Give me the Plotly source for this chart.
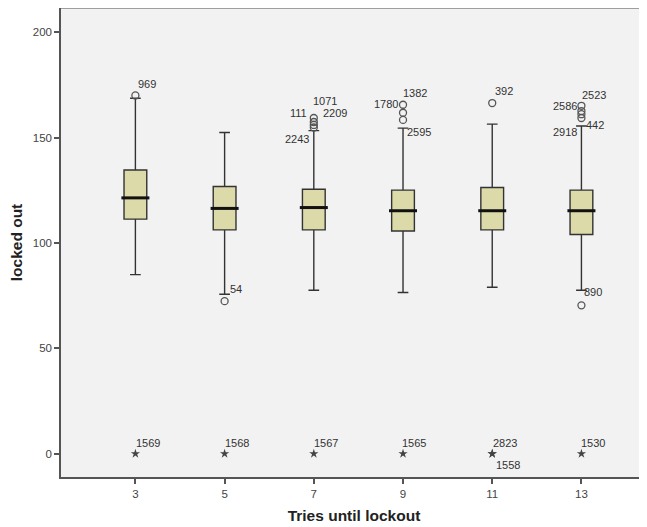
import plotly.graph_objects as go

# ---- data ----
categories = ['3', '5', '7', '9', '11', '13']
q1 = [111.3, 106.2, 106.2, 105.7, 106.2, 104.0]
median = [121.4, 116.4, 116.8, 115.3, 115.3, 115.3]
q3 = [134.6, 126.8, 125.5, 125.1, 126.3, 125.1]
lower_whisker = [85.0, 75.7, 77.6, 76.5, 79.0, 77.6]
upper_whisker = [168.7, 152.4, 153.3, 154.5, 156.4, 155.5]

outlier_cat = ['3', '5', '7', '7', '7', '7', '9', '9', '9', '11', '13', '13', '13', '13', '13']
outlier_val = [170.0, 72.4, 159.3, 157.4, 156.0, 154.8, 165.6, 161.8, 158.4, 166.4,
               165.1, 162.6, 161.1, 159.3, 70.4]

extreme_cat = ['3', '5', '7', '9', '11', '11', '13']
extreme_val = [0, 0, 0, 0, 0, 0, 0]

label_text = ['969', '1569', '54', '1568', '1071', '111', '2209', '2243', '1567',
              '1382', '1780', '2595', '1565', '392', '2823', '1558',
              '2523', '2586', '442', '2918', '890', '1530']
label_cat = ['3', '3', '5', '5', '7', '7', '7', '7', '7',
             '9', '9', '9', '9', '11', '11', '11',
             '13', '13', '13', '13', '13', '13']
label_val = [170.0, 0, 72.4, 0, 159.3, 157.4, 156.0, 154.8, 0,
             165.6, 165.6, 158.4, 0, 166.4, 0, 0,
             165.1, 165.1, 159.3, 159.3, 70.4, 0]

# ---- styling (label offsets in pixels) ----
label_shift = [(12, 11), (13, 11), (11, 12), (12, 11), (11, 17), (-15, 9), (21, 12), (-17, -12), (12, 11),
               (12, 12), (-17, 1), (16, -12), (11, 11), (12, 12), (13, 11), (16, -11),
               (13, 11), (-16, 0), (14, -7), (-16, -14), (12, 13), (12, 11)]

FONT = 'Liberation Sans, Arial, sans-serif'

fig = go.Figure()

fig.add_trace(go.Box(
    x=categories, q1=q1, median=median, q3=q3,
    lowerfence=lower_whisker, upperfence=upper_whisker,
    boxpoints=False, width=0.255, whiskerwidth=0.47,
    fillcolor='#DCDAA8', line=dict(color='#333333', width=1.4),
    hoverinfo='skip', showlegend=False,
))

# thick median bar
fig.add_trace(go.Scatter(
    x=categories, y=median, mode='markers',
    marker=dict(symbol='line-ew', size=20, line=dict(color='#111111', width=3)),
    hoverinfo='skip', showlegend=False,
))

fig.add_trace(go.Scatter(
    x=outlier_cat, y=outlier_val, mode='markers',
    marker=dict(symbol='circle-open', size=7, color='#555555', line=dict(width=1.3)),
    hoverinfo='skip', showlegend=False,
))

fig.add_trace(go.Scatter(
    x=extreme_cat, y=extreme_val, mode='markers',
    marker=dict(symbol='star', size=7, color='#444444'),
    hoverinfo='skip', showlegend=False,
))

for t, c, v, (dx, dy) in zip(label_text, label_cat, label_val, label_shift):
    fig.add_annotation(x=categories.index(c), y=v, text=t, showarrow=False, xshift=dx, yshift=dy,
                       font=dict(family=FONT, size=11, color='#333333'))

fig.add_shape(type='line', xref='paper', yref='paper', x0=0, x1=1, y0=1, y1=1,
              line=dict(color='#9E9E9E', width=2))

# page body has an 8px margin: figure is sized/offset to compensate
fig.update_layout(
    width=639, height=519,
    margin=dict(l=53, r=0, t=0, b=50),
    paper_bgcolor='white', plot_bgcolor='#F2F2F2',
    font=dict(family=FONT, color='#444444'),
    showlegend=False,
)
fig.update_xaxes(
    type='category', categoryorder='array', categoryarray=categories,
    range=[-0.834, 5.735],
    showgrid=False, zeroline=False,
    showline=True, linecolor='#555555', linewidth=1.5,
    ticks='outside', ticklen=5, tickcolor='#555555', tickwidth=1.5,
    tickfont=dict(size=11.5, color='#444444'),
    title=dict(text='<b>Tries until lockout</b>', font=dict(size=15.5, color='#222222'), standoff=12),
)
fig.update_yaxes(
    range=[-11.05, 211.5], tickvals=[0, 50, 100, 150, 200],
    showgrid=False, zeroline=False,
    showline=True, linecolor='#555555', linewidth=1.5,
    ticks='outside', ticklen=5, tickcolor='#555555', tickwidth=1.5,
    tickfont=dict(size=11.5, color='#444444'),
    title=dict(text='<b>locked out</b>', font=dict(size=15.5, color='#222222'), standoff=10),
)

fig.write_html('out.html')
